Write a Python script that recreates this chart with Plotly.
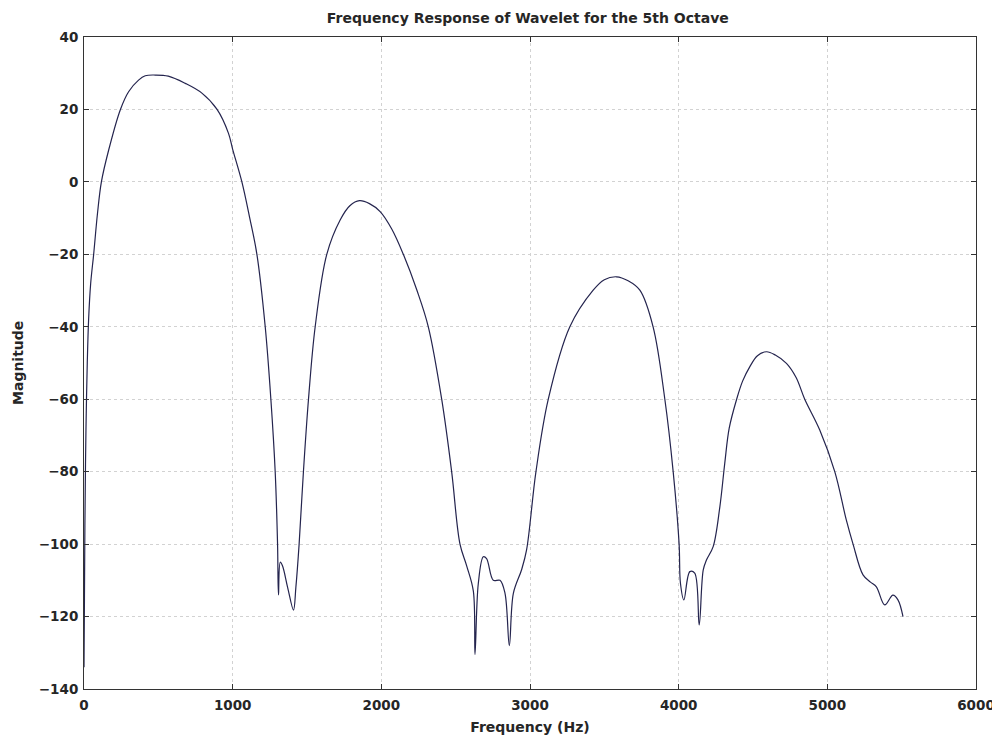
import plotly.graph_objects as go

freq_hz = [0, 3, 6, 10, 15, 22, 31, 45, 65, 90, 117, 166, 245, 300, 367, 412, 480, 567, 681, 793, 895, 972, 1000,
           1062, 1115, 1163, 1219, 1257, 1286, 1302, 1308, 1320, 1335, 1370, 1409, 1425, 1447, 1476, 1510, 1555, 1633,
           1723, 1790, 1853, 1920, 1992, 2070, 2148, 2240, 2316, 2406, 2473, 2529, 2574, 2619, 2630, 2652, 2686, 2708,
           2753, 2798, 2832, 2861, 2888, 2944, 2977, 3040, 3123, 3268, 3425, 3500, 3582, 3660, 3739, 3828, 3907, 3963,
           4003, 4012, 4035, 4075, 4108, 4138, 4165, 4187, 4232, 4277, 4310, 4340, 4390, 4430, 4479, 4530, 4591, 4650,
           4725, 4790, 4848, 4949, 5050, 5128, 5173, 5240, 5290, 5330, 5386, 5441, 5475, 5509]
magnitude = [-134, -115, -95, -78, -64, -50, -38, -28, -20, -9, 0, 8.8, 20, 24.9, 28.1, 29.3, 29.5, 29.2, 27.2, 24.5, 20, 13.4, 9,
             0, -10, -20, -40, -60, -80, -100, -114, -105, -106, -112, -118.2, -112, -100, -80, -60, -40, -20,
             -10.5, -6.5, -5.2, -6, -8.2, -13, -20, -30, -40, -60, -80, -100, -106, -113, -130.5, -111, -103.5, -104,
             -110, -110, -113.6, -128, -113.6, -107, -101.6, -80, -60, -40, -29.9, -27, -26.2, -27.3, -29.9, -40, -60, -80,
             -100, -110.8, -115.4, -107.6, -108, -122.3, -107.2, -104.4, -100.7, -89.7, -77.7, -68, -60, -55, -51, -48, -46.9, -47.8,
             -50.1, -54, -60, -68.5, -80, -93.4, -100, -108.5, -110.5, -111.8, -116.8, -114.1, -115.4, -120]

x_ticks = [0, 1000, 2000, 3000, 4000, 5000, 6000]
y_ticks = [40, 20, 0, -20, -40, -60, -80, -100, -120, -140]

FONT = "DejaVu Sans"
TXT = "#262626"
W, H = 992, 732
ML, MR, MT, MB = 76, 24, 29, 51

fig = go.Figure()
fig.add_trace(go.Scatter(x=freq_hz, y=magnitude, mode="lines",
                         line=dict(color="#24244e", width=1.2, shape="spline", smoothing=1.0),
                         showlegend=False, hoverinfo="skip"))

axis_common = dict(showline=True, linecolor="#333333", linewidth=1, mirror="ticks",
                   ticks="inside", ticklen=5, tickcolor="#333333", automargin=False,
                   showgrid=True, gridcolor="#d2d2d2", griddash="dot", gridwidth=1,
                   zeroline=False, tickfont=dict(family=FONT, size=13.5, color=TXT, weight="bold"))

fig.update_layout(
    width=W, height=H,
    paper_bgcolor="white", plot_bgcolor="white",
    margin=dict(l=ML, r=MR, t=MT, b=MB, autoexpand=False),
    title=dict(text="<b>Frequency Response of Wavelet for the 5th Octave</b>", x=0.524, xanchor="center",
               y=1 - 10 / H, yanchor="middle", font=dict(family=FONT, size=14, color=TXT)),
    xaxis=dict(range=[0, 6000], tickvals=x_ticks, ticktext=[str(v) for v in x_ticks], ticklabelstandoff=4,
               title=dict(text="<b>Frequency (Hz)</b>", font=dict(family=FONT, size=14, color=TXT), standoff=9),
               **axis_common),
    yaxis=dict(range=[-140, 40], tickvals=y_ticks, ticktext=[str(v).replace("-", "\u2212") for v in y_ticks],
               ticklabelstandoff=2, **axis_common),
    annotations=[dict(text="<b>Magnitude</b>", xref="paper", yref="paper",
                      x=-(ML - 10) / (W - ML - MR), y=0.5, xanchor="center", yanchor="middle",
                      textangle=-90, showarrow=False, font=dict(family=FONT, size=14, color=TXT))],
)

fig.write_html("out.html")
